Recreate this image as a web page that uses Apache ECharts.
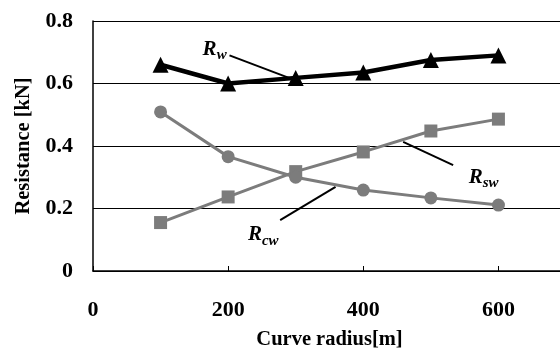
<!DOCTYPE html>
<html>
<head>
<meta charset="utf-8">
<script src="https://cdn.jsdelivr.net/npm/echarts@6/dist/echarts.min.js"></script>
<style>
  html, body { margin: 0; padding: 0; background: #fff; }
  #main { width: 560px; height: 350px; }
</style>
</head>
<body>
<div id="main"></div>
<script>
  // curve radius [m]
  let radius = [100, 200, 300, 400, 500, 600];
  // resistances [kN]
  let rw  = [0.66, 0.60, 0.618, 0.635, 0.675, 0.69];
  let rsw = [0.155, 0.237, 0.318, 0.381, 0.448, 0.486];
  let rcw = [0.509, 0.366, 0.30, 0.259, 0.234, 0.211];

  // annotation labels: [subscript, label x, label y, line from, line to]
  let notes = [
    ['w',  180, 0.71, [202, 0.69], [290, 0.618]],
    ['sw', 578, 0.30, [533, 0.339], [459, 0.413]],
    ['cw', 252, 0.115, [277, 0.163], [359, 0.269]]
  ];

  function pairs(ys) {
    return radius.map((x, i) => [x, ys[i]]);
  }

  let serif = '"Liberation Serif", "Times New Roman", serif';
  let gray = '#7c7c7c';

  var myChart = echarts.init(document.getElementById('main'));

  var option = {
    backgroundColor: '#fff',
    animation: false,
    grid: { left: 93, top: 21, right: -6, bottom: 79, outerBoundsMode: 'none', containLabel: false },
    xAxis: {
      type: 'value',
      min: 0, max: 700, interval: 200,
      name: 'Curve radius[m]',
      nameLocation: 'middle',
      nameGap: 58,
      nameTextStyle: { fontFamily: serif, fontWeight: 'bold', fontSize: 20.5, color: '#000' },
      axisLine: { lineStyle: { color: '#000', width: 1.5 } },
      axisTick: { show: true, inside: true, length: 5, lineStyle: { color: '#000' } },
      axisLabel: { fontFamily: serif, fontWeight: 'bold', fontSize: 22, color: '#000', margin: 28, showMaxLabel: false },
      splitLine: { show: false }
    },
    yAxis: {
      type: 'value',
      min: 0, max: 0.8, interval: 0.2,
      name: 'Resistance [kN]',
      nameLocation: 'middle',
      nameGap: 59,
      nameTextStyle: { fontFamily: serif, fontWeight: 'bold', fontSize: 20.5, color: '#000' },
      axisLine: { show: true, lineStyle: { color: '#000', width: 1.5 } },
      axisTick: { show: false },
      axisLabel: {
        fontFamily: serif, fontWeight: 'bold', fontSize: 22, color: '#000', margin: 20,
        formatter: v => v === 0 ? '0' : v.toFixed(1)
      },
      splitLine: { lineStyle: { color: '#000', width: 1 } }
    },
    series: [
      {
        name: 'Rw', type: 'line', data: pairs(rw),
        symbol: 'triangle', symbolSize: 16,
        itemStyle: { color: '#000' },
        lineStyle: { color: '#000', width: 4.5 }
      },
      {
        name: 'Rsw', type: 'line', data: pairs(rsw),
        symbol: 'rect', symbolSize: 13,
        itemStyle: { color: gray },
        lineStyle: { color: gray, width: 3 }
      },
      {
        name: 'Rcw', type: 'line', data: pairs(rcw),
        symbol: 'circle', symbolSize: 13,
        itemStyle: { color: gray },
        lineStyle: { color: gray, width: 3 }
      }
    ]
  };

  myChart.setOption(option);

  // leader lines and labels, placed through the axes
  let gfx = [];
  notes.forEach(n => {
    let p = myChart.convertToPixel({ gridIndex: 0 }, [n[1], n[2]]);
    let a = myChart.convertToPixel({ gridIndex: 0 }, n[3]);
    let b = myChart.convertToPixel({ gridIndex: 0 }, n[4]);
    gfx.push({
      type: 'line',
      shape: { x1: a[0], y1: a[1], x2: b[0], y2: b[1] },
      style: { stroke: '#000', lineWidth: 2 }
    });
    gfx.push({
      type: 'text',
      x: p[0], y: p[1],
      style: {
        text: '{r|R}{s|' + n[0] + '}',
        align: 'center', verticalAlign: 'middle',
        rich: {
          r: { fontFamily: serif, fontStyle: 'italic', fontWeight: 'bold', fontSize: 21, fill: '#000' },
          s: { fontFamily: serif, fontStyle: 'italic', fontWeight: 'bold', fontSize: 15, fill: '#000', padding: [12, 0, 0, 0] }
        }
      }
    });
  });
  myChart.setOption({ graphic: gfx });
</script>
</body>
</html>
